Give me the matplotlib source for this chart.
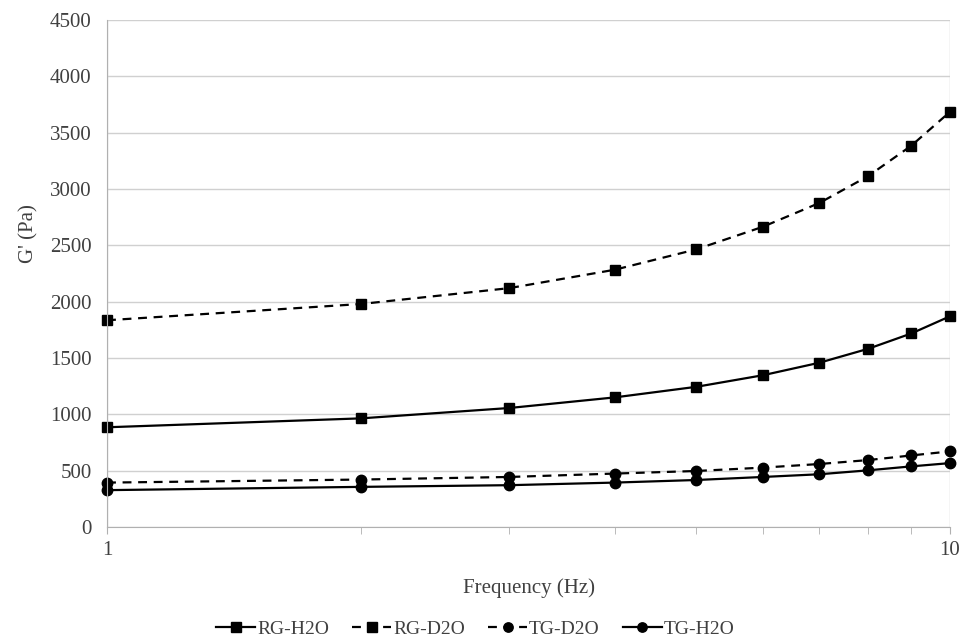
import matplotlib.pyplot as plt
from matplotlib.ticker import FixedLocator, NullFormatter

plt.rcParams['font.family'] = ['Liberation Serif', 'DejaVu Serif']

freq = [1, 2, 3, 4, 5, 6, 7, 8, 9, 10]
rg_h2o = [885, 964, 1056, 1150, 1244, 1347, 1458, 1582, 1718, 1870]
rg_d2o = [1835, 1979, 2120, 2283, 2464, 2665, 2876, 3115, 3385, 3685]
tg_d2o = [394, 421, 444, 474, 497, 527, 559, 594, 635, 671]
tg_h2o = [327, 356, 371, 394, 417, 444, 468, 503, 538, 567]

fig = plt.figure(figsize=(9.59, 6.39), dpi=100)
ax = fig.add_axes([0.1116, 0.1753, 0.8790, 0.7934])

dash = (0, (4, 3))
ax.plot(freq, rg_h2o, color='black', lw=1.6, marker='s', ms=7.5, label='RG-H2O', clip_on=False)
ax.plot(freq, rg_d2o, color='black', lw=1.6, ls=dash, marker='s', ms=7.5, label='RG-D2O', clip_on=False)
ax.plot(freq, tg_d2o, color='black', lw=1.6, ls=dash, marker='o', ms=7.5, label='TG-D2O', clip_on=False)
ax.plot(freq, tg_h2o, color='black', lw=1.6, marker='o', ms=7.5, label='TG-H2O', clip_on=False)

ax.set_xscale('log')
ax.set_xlim(1, 10)
ax.set_ylim(0, 4500)
ax.set_xticks([1, 10])
ax.set_xticklabels(['1', '10'])
ax.xaxis.set_minor_locator(FixedLocator(range(2, 10)))
ax.xaxis.set_minor_formatter(NullFormatter())
ax.set_yticks(range(0, 4501, 500))

ax.grid(axis='y', color='#d0d0d0', lw=1)
ax.grid(axis='x', which='major', color='#d0d0d0', lw=1)
ax.set_axisbelow(True)
for side in ['top', 'right']:
    ax.spines[side].set_visible(False)
for side in ['left', 'bottom']:
    ax.spines[side].set_color('#b0b0b0')
ax.tick_params(axis='y', length=0, labelsize=15, colors='#404040', pad=11)
ax.tick_params(axis='x', which='both', length=5, color='#b0b0b0',
               labelsize=15, labelcolor='#404040', pad=5)

ax.set_xlabel('Frequency (Hz)', fontsize=15, color='#404040', labelpad=13)
ax.set_ylabel("G' (Pa)", fontsize=15, color='#404040')
ax.yaxis.set_label_coords(-0.081, 0.578)

ax.legend(loc='upper center', bbox_to_anchor=(0.437, -0.15), ncol=4, frameon=False,
          fontsize=14, handlelength=2.0, columnspacing=1.2, handletextpad=0.1,
          markerscale=0.9, labelcolor='#404040')

fig.savefig('out.png', dpi=100)
